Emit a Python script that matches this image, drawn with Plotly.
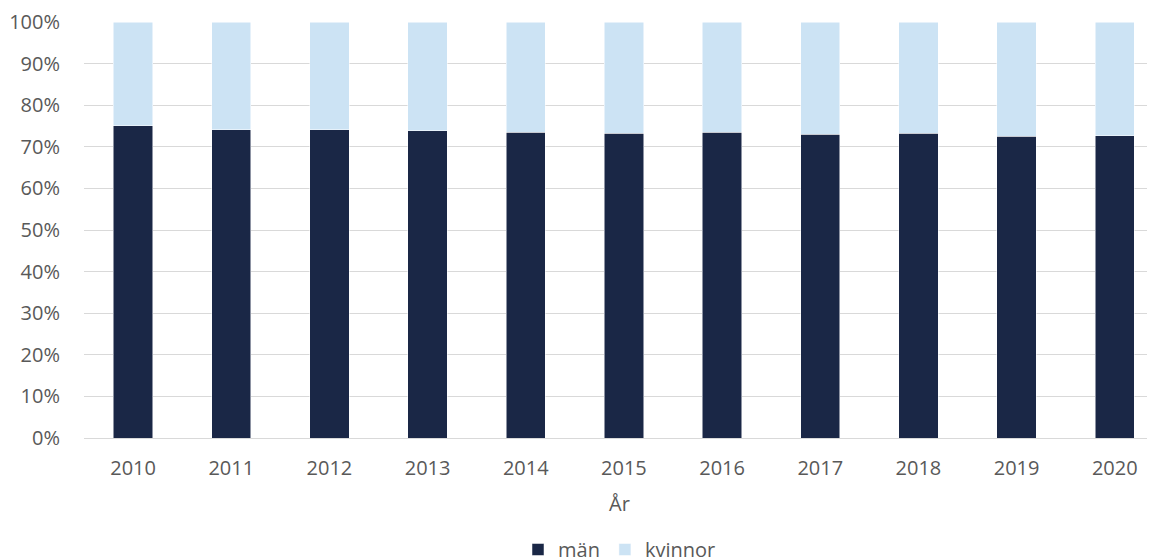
import plotly.graph_objects as go

years = ["2010", "2011", "2012", "2013", "2014", "2015", "2016", "2017", "2018", "2019", "2020"]
man = [75.1, 74.1, 74.1, 73.8, 73.5, 73.3, 73.5, 73.0, 73.2, 72.5, 72.7]
kvinnor = [round(100 - v, 1) for v in man]

font = dict(family="Open Sans, Noto Sans, sans-serif", size=20, color="#595959")

fig = go.Figure()
fig.add_trace(go.Bar(x=years, y=man, name="män",
                     marker=dict(color="#1A2746", line=dict(color="#FFFFFF", width=0.5))))
fig.add_trace(go.Bar(x=years, y=kvinnor, name="kvinnor",
                     marker=dict(color="#CCE3F4", line=dict(color="#FFFFFF", width=0.5))))

# page has an 8px body margin, so the figure is shrunk to fit the window;
# the original chart is cut at the right edge, hence the shortened x range
fig.update_layout(
    barmode="stack",
    bargap=0.6,
    width=1147, height=552,
    margin=dict(l=76, r=0, t=14, b=122, autoexpand=False),
    paper_bgcolor="white", plot_bgcolor="white",
    font=font,
    legend=dict(orientation="h", x=0.5, xanchor="center", y=-0.268, yanchor="middle",
                font=dict(size=20, color="#595959"), itemwidth=30, traceorder="normal"),
    xaxis=dict(title=dict(text="År", standoff=16, font=dict(size=20)), showgrid=False, ticks="",
               showline=True, linecolor="#D9D9D9", linewidth=1, automargin=False,
               range=[-0.5, 10.41],
               tickfont=dict(size=20), ticklabelstandoff=12),
    yaxis=dict(range=[0, 100], dtick=10, ticksuffix="%", gridcolor="#D9D9D9",
               gridwidth=1, zeroline=False, ticks="", ticklabelstandoff=23,
               automargin=False, tickfont=dict(size=20)),
)

fig.write_html("out.html")
